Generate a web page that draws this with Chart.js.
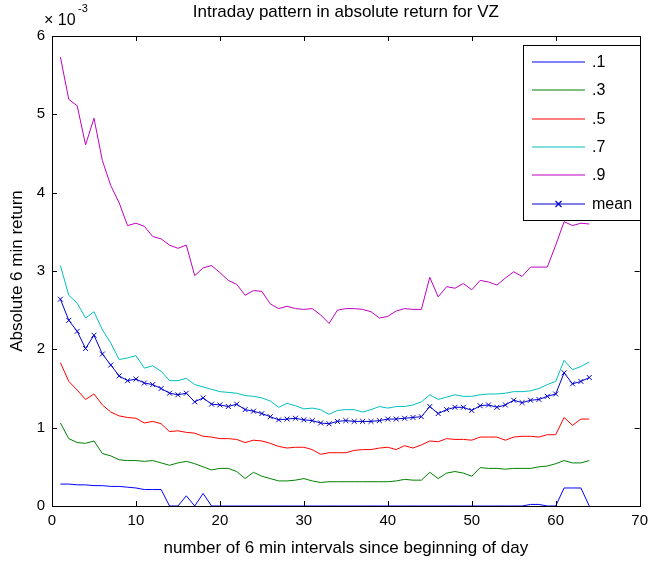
<!DOCTYPE html>
<html>
<head>
<meta charset="utf-8">
<script src="https://cdn.jsdelivr.net/npm/chart.js@4.4.1/dist/chart.umd.min.js"></script>
<style>
  html, body { margin: 0; padding: 0; background: #fff; }
  #wrap { width: 654px; height: 561px; }
</style>
</head>
<body>
<div id="wrap"><canvas id="vzChart" width="654" height="561"></canvas></div>
<script>
// 6 min intervals since the open
const intervals = [1, 2, 3, 4, 5, 6, 7, 8, 9, 10, 11, 12, 13, 14, 15, 16,
    17, 18, 19, 20, 21, 22, 23, 24, 25, 26, 27, 28, 29, 30, 31, 32,
    33, 34, 35, 36, 37, 38, 39, 40, 41, 42, 43, 44, 45, 46, 47, 48,
    49, 50, 51, 52, 53, 54, 55, 56, 57, 58, 59, 60, 61, 62, 63, 64];

// absolute return, in units of 1e-3
const q10 = [0.28, 0.28, 0.27, 0.27, 0.26, 0.26, 0.25, 0.25, 0.24, 0.23, 0.21, 0.21, 0.21, 0, 0, 0.13,
    0, 0.16, 0, 0, 0, 0, 0, 0, 0, 0, 0, 0, 0, 0, 0, 0,
    0, 0, 0, 0, 0, 0, 0, 0, 0, 0, 0, 0, 0, 0, 0, 0,
    0, 0, 0, 0, 0, 0, 0, 0, 0.02, 0.02, 0, 0, 0.23, 0.23, 0.23, 0];
const q30 = [1.06, 0.86, 0.81, 0.80, 0.83, 0.67, 0.64, 0.59, 0.58, 0.58, 0.57, 0.58, 0.55, 0.52, 0.55, 0.57,
    0.54, 0.50, 0.46, 0.48, 0.48, 0.44, 0.35, 0.43, 0.38, 0.35, 0.32, 0.32, 0.33, 0.35, 0.32, 0.30,
    0.31, 0.31, 0.31, 0.31, 0.31, 0.31, 0.31, 0.31, 0.32, 0.34, 0.33, 0.33, 0.43, 0.35, 0.42, 0.44,
    0.42, 0.38, 0.49, 0.48, 0.48, 0.47, 0.48, 0.48, 0.48, 0.50, 0.51, 0.54, 0.58, 0.55, 0.55, 0.58];
const q50 = [1.83, 1.59, 1.48, 1.36, 1.43, 1.29, 1.20, 1.15, 1.13, 1.12, 1.06, 1.08, 1.05, 0.95, 0.96, 0.94,
    0.93, 0.89, 0.88, 0.86, 0.86, 0.85, 0.81, 0.84, 0.83, 0.80, 0.76, 0.74, 0.75, 0.75, 0.72, 0.66,
    0.68, 0.68, 0.68, 0.71, 0.72, 0.72, 0.74, 0.75, 0.72, 0.77, 0.74, 0.78, 0.83, 0.82, 0.86, 0.85,
    0.85, 0.84, 0.88, 0.88, 0.88, 0.84, 0.88, 0.89, 0.89, 0.88, 0.91, 0.91, 1.13, 1.03, 1.11, 1.11];
const q70 = [3.07, 2.69, 2.59, 2.40, 2.48, 2.25, 2.08, 1.87, 1.89, 1.92, 1.76, 1.79, 1.72, 1.60, 1.60, 1.63,
    1.55, 1.52, 1.49, 1.46, 1.45, 1.44, 1.41, 1.40, 1.38, 1.34, 1.26, 1.31, 1.28, 1.24, 1.25, 1.23,
    1.17, 1.22, 1.23, 1.23, 1.20, 1.23, 1.27, 1.25, 1.27, 1.27, 1.29, 1.33, 1.42, 1.36, 1.39, 1.42,
    1.40, 1.40, 1.42, 1.43, 1.43, 1.44, 1.46, 1.46, 1.47, 1.50, 1.55, 1.59, 1.86, 1.74, 1.78, 1.84];
const q90 = [5.73, 5.19, 5.11, 4.61, 4.95, 4.41, 4.09, 3.87, 3.58, 3.61, 3.57, 3.44, 3.41, 3.33, 3.29, 3.33,
    2.94, 3.04, 3.07, 2.98, 2.88, 2.83, 2.69, 2.75, 2.74, 2.58, 2.52, 2.55, 2.52, 2.51, 2.52, 2.44,
    2.33, 2.50, 2.52, 2.52, 2.51, 2.48, 2.40, 2.42, 2.49, 2.52, 2.51, 2.51, 2.92, 2.67, 2.80, 2.78,
    2.84, 2.76, 2.88, 2.86, 2.82, 2.91, 2.99, 2.93, 3.05, 3.05, 3.05, 3.33, 3.63, 3.58, 3.61, 3.60];
const meanRet = [2.64, 2.37, 2.23, 2.01, 2.18, 1.94, 1.80, 1.66, 1.60, 1.62, 1.57, 1.55, 1.50, 1.44, 1.42, 1.44,
    1.33, 1.38, 1.30, 1.29, 1.27, 1.30, 1.23, 1.21, 1.18, 1.14, 1.10, 1.11, 1.12, 1.10, 1.09, 1.06,
    1.05, 1.08, 1.09, 1.08, 1.08, 1.08, 1.09, 1.11, 1.11, 1.12, 1.13, 1.14, 1.27, 1.18, 1.23, 1.26,
    1.26, 1.22, 1.28, 1.29, 1.26, 1.29, 1.35, 1.32, 1.35, 1.36, 1.40, 1.43, 1.70, 1.56, 1.59, 1.64];

const seriesLabels = ['.1', '.3', '.5', '.7', '.9', 'mean'];
const seriesColors = ['#0000ff', '#008000', '#ff0000', '#00bfbf', '#bf00bf', '#0000cc'];

const FONT = "'Liberation Sans', Arial, Helvetica, sans-serif";

function toPoints(values) {
    return values.map((v, i) => ({ x: intervals[i], y: v }));
}

// MATLAB-style box with inward ticks on all four sides, plus title and legend
const boxFrame = {
    id: 'boxFrame',
    afterDatasetsDraw(chart) {
        const { ctx, chartArea: a, scales } = chart;
        const len = 5;
        ctx.save();
        ctx.strokeStyle = '#000';
        ctx.lineWidth = 1;
        ctx.beginPath();
        scales.x.ticks.forEach(t => {
            const px = Math.round(scales.x.getPixelForValue(t.value)) + 0.5;
            ctx.moveTo(px, a.bottom); ctx.lineTo(px, a.bottom - len);
            ctx.moveTo(px, a.top); ctx.lineTo(px, a.top + len);
        });
        scales.y.ticks.forEach(t => {
            const py = Math.round(scales.y.getPixelForValue(t.value)) + 0.5;
            ctx.moveTo(a.left, py); ctx.lineTo(a.left + len, py);
            ctx.moveTo(a.right, py); ctx.lineTo(a.right - len, py);
        });
        ctx.stroke();
        ctx.strokeRect(Math.round(a.left) + 0.5, Math.round(a.top) + 0.5,
            Math.round(a.right - a.left), Math.round(a.bottom - a.top));
        ctx.restore();
    },
    afterDraw(chart) {
        const { ctx, chartArea: a } = chart;
        ctx.save();
        ctx.fillStyle = '#000';
        // title
        ctx.font = '17px ' + FONT;
        ctx.textAlign = 'center';
        ctx.textBaseline = 'middle';
        ctx.fillText('Intraday pattern in absolute return for VZ', (a.left + a.right) / 2, 12);
        // exponent label
        ctx.textAlign = 'left';
        ctx.font = '16px ' + FONT;
        ctx.fillText('\u00d7 10', 44, 21);
        ctx.font = '11px ' + FONT;
        ctx.fillText('-3', 78, 9);

        // legend box
        const lx = 523, ly = 45, lw = 117, lh = 175;
        ctx.fillStyle = '#fff';
        ctx.fillRect(lx, ly, lw, lh);
        ctx.strokeStyle = '#000';
        ctx.lineWidth = 1;
        ctx.strokeRect(lx + 0.5, ly + 0.5, lw, lh);
        ctx.font = '16px ' + FONT;
        ctx.textBaseline = 'middle';
        seriesLabels.forEach((label, i) => {
            const y = Math.round(ly + 17 + i * 28.3);
            ctx.strokeStyle = seriesColors[i];
            ctx.lineWidth = 1.2;
            ctx.beginPath();
            ctx.moveTo(lx + 9, y);
            ctx.lineTo(lx + 62, y);
            ctx.stroke();
            if (label === 'mean') {
                const cx = lx + 35.5, r = 3;
                ctx.beginPath();
                ctx.moveTo(cx - r, y - r); ctx.lineTo(cx + r, y + r);
                ctx.moveTo(cx - r, y + r); ctx.lineTo(cx + r, y - r);
                ctx.stroke();
            }
            ctx.fillStyle = '#000';
            ctx.fillText(label, lx + 69, y + 1);
        });
        ctx.restore();
    }
};

const quantiles = [q10, q30, q50, q70, q90];
const datasets = quantiles.map((vals, i) => ({
    label: seriesLabels[i],
    data: toPoints(vals),
    borderColor: seriesColors[i],
    backgroundColor: seriesColors[i],
    borderWidth: 1,
    pointRadius: 0,
    fill: false,
    tension: 0,
    order: 1
}));
datasets.push({
    label: seriesLabels[5],
    data: toPoints(meanRet),
    borderColor: seriesColors[5],
    backgroundColor: seriesColors[5],
    borderWidth: 1,
    pointStyle: 'crossRot',
    pointRadius: 3.5,
    pointBorderWidth: 1,
    pointBorderColor: seriesColors[5],
    fill: false,
    tension: 0,
    order: 0
});

new Chart(document.getElementById('vzChart'), {
    type: 'line',
    data: { datasets: datasets },
    options: {
        responsive: false,
        animation: false,
        layout: { padding: { top: 36, right: 8, left: 0, bottom: 0 } },
        plugins: {
            legend: { display: false },
            tooltip: { enabled: false },
            title: { display: false }
        },
        scales: {
            x: {
                type: 'linear',
                min: 0,
                max: 70,
                grid: { display: false, drawTicks: false },
                border: { display: false },
                ticks: {
                    stepSize: 10,
                    padding: 6,
                    color: '#000',
                    font: { family: FONT, size: 15 }
                },
                title: {
                    display: true,
                    text: 'number of 6 min intervals since beginning of day',
                    color: '#000',
                    font: { family: FONT, size: 17 },
                    padding: { top: 0, bottom: 2 }
                },
                afterFit(scale) { scale.height = 55; }
            },
            y: {
                type: 'linear',
                min: 0,
                max: 6,
                grid: { display: false, drawTicks: false },
                border: { display: false },
                ticks: {
                    stepSize: 1,
                    padding: 7,
                    color: '#000',
                    font: { family: FONT, size: 15 }
                },
                title: {
                    display: true,
                    text: 'Absolute 6 min return',
                    color: '#000',
                    font: { family: FONT, size: 17 },
                    padding: { top: 7, bottom: 0 }
                },
                afterFit(scale) { scale.width = 52; }
            }
        }
    },
    plugins: [boxFrame]
});
</script>
</body>
</html>
